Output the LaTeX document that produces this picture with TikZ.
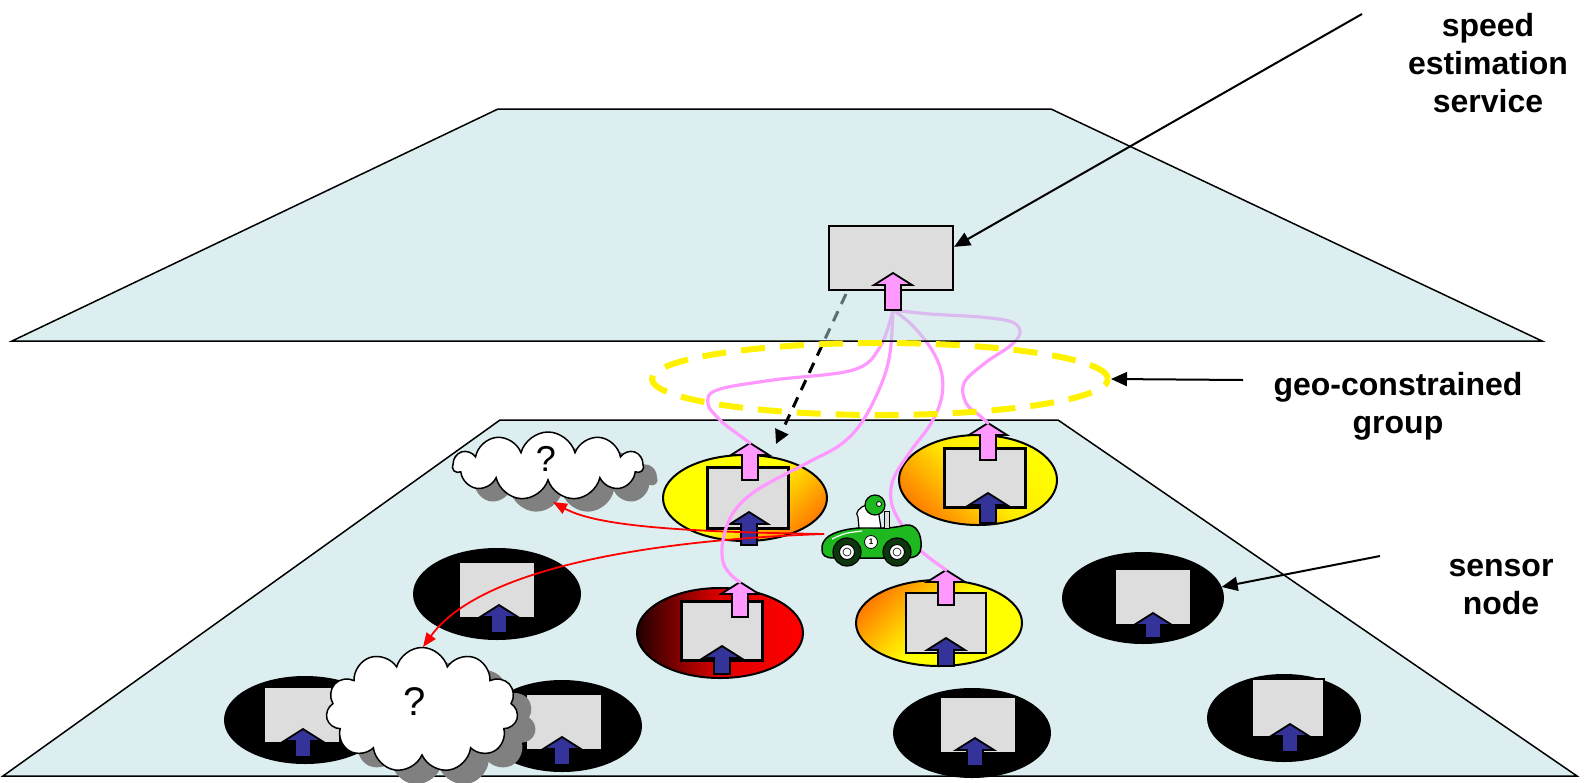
\documentclass[tikz,border=0pt]{standalone}
\usepackage{fontspec}
\setmainfont{Liberation Sans}
\usetikzlibrary{shapes.geometric,shapes.symbols,arrows.meta}

\definecolor{plane}{RGB}{220,238,240}
\definecolor{planeglass}{RGB}{185,221,225}
\definecolor{boxgrey}{RGB}{221,221,221}
\definecolor{linkpink}{RGB}{255,153,255}
\definecolor{upblue}{RGB}{51,51,153}
\definecolor{shadowgrey}{RGB}{128,128,128}
\definecolor{cargreen}{RGB}{30,185,30}
\definecolor{wheelgreen}{RGB}{12,55,12}
\definecolor{darkred}{RGB}{35,0,0}
\definecolor{hotorange}{RGB}{255,128,0}

\tikzset{
  planeedge/.style={draw=black, line width=1.5pt},
  sensorbody/.style={ellipse, draw=black, line width=2pt, inner sep=0pt},
  databox/.style={rectangle, draw=black, fill=boxgrey, line width=2.2pt, inner sep=0pt},
  arrowline/.style={draw=black, line width=1.8pt, line join=miter},
  link/.style={draw=linkpink, line width=3.2pt, line cap=round},
  pointer/.style={draw=black, line width=2pt, -{Triangle[length=16pt,width=14pt]}},
  redlink/.style={draw=red, line width=1.8pt, -{Triangle[length=14pt,width=11pt]}},
  label/.style={font=\bfseries\fontsize{32}{38}\selectfont, align=center},
  puff/.style={cloud, cloud puffs=11, cloud ignores aspect, inner sep=0pt},
  qmark/.style={font=\fontsize{40}{40}\selectfont}
}

% block arrow: name, x, y of tip, length, fill colour
\newcommand\blockarrow[5]{%
  \coordinate (#1) at (#2,#3);
  \filldraw[arrowline, fill=#5] (#1) -- ++(19,12) -- ++(-11,0) -- ++(0,#4-12)
    -- ++(-16,0) -- ++(0,12-#4) -- ++(-11,0) -- cycle;}

\begin{document}
\begin{tikzpicture}[x=1pt,y=-1pt]
\useasboundingbox (0,0) rectangle (1585,782);

\coordinate (svcout) at (893,310);

% lower plane
\filldraw[fill=plane, planeedge] (500,420) -- (1058,420) -- (1577,776) -- (3,776) -- cycle;

% sensor nodes
\node[sensorbody, top color=yellow, bottom color=hotorange, middle color=yellow, shading angle=45,
      minimum width=164pt, minimum height=86pt] (n1) at (745,498) {};
\node[databox, minimum width=81pt, minimum height=61pt] (b1) at (748,498) {};
\blockarrow{n1out}{750}{443}{37}{linkpink}
\blockarrow{n1in}{749}{512}{33}{upblue}

\node[sensorbody, top color=yellow, bottom color=hotorange, middle color={yellow!85!hotorange}, shading angle=-45,
      minimum width=158pt, minimum height=90pt] (n2) at (978,480) {};
\node[databox, minimum width=81pt, minimum height=59pt] (b2) at (985,478) {};
\blockarrow{n2out}{988}{423}{37}{linkpink}
\blockarrow{n2in}{988}{493}{30}{upblue}

\node[sensorbody, fill=black, minimum width=166pt, minimum height=90pt] (n3) at (497,594) {};
\node[databox, minimum width=77pt, minimum height=56pt] (b3) at (497,590) {};
\blockarrow{n3in}{499}{605}{28}{upblue}

\node[sensorbody, left color=darkred, right color=red, middle color=red!88!black,
      minimum width=166pt, minimum height=90pt] (n4) at (720,633) {};
\node[databox, minimum width=81pt, minimum height=59pt] (b4) at (722,631) {};
\blockarrow{n4out}{740}{582}{35}{linkpink}
\blockarrow{n4in}{722}{646}{28}{upblue}

\node[sensorbody, top color=hotorange, bottom color=yellow, middle color=yellow, shading angle=45,
      minimum width=166pt, minimum height=86pt] (n5) at (939,623) {};
\node[databox, minimum width=80pt, minimum height=60pt] (b5) at (946,623) {};
\blockarrow{n5out}{946}{570}{35}{linkpink}
\blockarrow{n5in}{946}{638}{28}{upblue}

\node[sensorbody, fill=black, minimum width=160pt, minimum height=90pt] (n6) at (1143,598) {};
\node[databox, minimum width=77pt, minimum height=56pt] (b6) at (1153,597) {};
\blockarrow{n6in}{1153}{613}{25}{upblue}

\node[sensorbody, fill=black, minimum width=160pt, minimum height=86pt] (n7) at (305,720) {};
\node[databox, minimum width=77pt, minimum height=56pt] (b7) at (302,715) {};
\blockarrow{n7in}{303}{729}{28}{upblue}

\node[sensorbody, fill=black, minimum width=158pt, minimum height=90pt] (n8) at (562,726) {};
\node[databox, minimum width=77pt, minimum height=56pt] (b8) at (564,722) {};
\blockarrow{n8in}{562}{737}{28}{upblue}

\node[sensorbody, fill=black, minimum width=156pt, minimum height=88pt] (n9) at (972,733) {};
\node[databox, minimum width=77pt, minimum height=56pt] (b9) at (978,725) {};
\blockarrow{n9in}{975}{738}{28}{upblue}

\node[sensorbody, fill=black, minimum width=152pt, minimum height=86pt] (n10) at (1284,718) {};
\node[databox, minimum width=72pt, minimum height=58pt] (b10) at (1288,708) {};
\blockarrow{n10in}{1290}{724}{28}{upblue}

% unknown positions
\node[puff, fill=shadowgrey, minimum width=190pt, minimum height=68pt] (cloudAsh) at (562,479) {};
\node[puff, draw=black, fill=white, line width=1.5pt, minimum width=190pt, minimum height=68pt] (cloudA) at (548,466) {};
\node[font=\fontsize{36}{36}\selectfont] (qA) at (546,459) {?};

\node[puff, fill=shadowgrey, minimum width=192pt, minimum height=125pt] (cloudBsh) at (440,724) {};
\node[puff, draw=black, fill=white, line width=1.5pt, minimum width=192pt, minimum height=125pt] (cloudB) at (422,710) {};
\node[qmark] (qB) at (415,702) {?};

% car position reports
\coordinate (carnose) at (824,534);
\coordinate (cloudAin) at (553,502);
\coordinate (cloudBin) at (423,647);
\draw[redlink] (carnose) .. controls (700,532) and (600,528) .. (cloudAin);
\draw[redlink] (carnose) .. controls (650,540) and (480,568) .. (cloudBin);

% group links
\draw[link] plot[smooth, tension=0.6] coordinates {(svcout) (880,347) (853,370) (773,380) (717,390) (708,404) (720,420) (735,432) (n1out)};
\draw[link] plot[smooth, tension=0.6] coordinates {(svcout) (890,353) (881,385) (862,422) (840,445) (807,463) (757,490) (733,513) (723,540) (723,562) (731,575) (n4out)};
\draw[link] plot[smooth, tension=0.6] coordinates {(svcout) (912,325) (932,350) (942,375) (941,400) (930,425) (910,452) (893,480) (892,505) (905,530) (920,550) (n5out)};
\draw[link] plot[smooth, tension=0.6] coordinates {(svcout) (930,314) (980,317) (1012,322) (1020,333) (1010,346) (985,363) (964,383) (966,403) (979,415) (n2out)};

% query from the service
\coordinate (qstart) at (846,294);
\coordinate (qend) at (776,444);
\draw[draw=black, line width=3pt, dash pattern=on 11pt off 8pt, -{Triangle[length=14pt,width=14pt]}] (qstart) -- (qend);

% car
\filldraw[draw=black, fill=cargreen, line width=1.5pt] (822,550) .. controls (821,538) and (832,532) .. (850,529) -- (866,527) .. controls (880,529) and (895,528) .. (906,525) .. controls (916,524) and (922,534) .. (921,547) .. controls (921,554) and (916,558) .. (906,558) -- (834,558) .. controls (825,558) and (822,555) .. (822,550) -- cycle;
\draw[white, line width=1.2pt] (832,539) .. controls (845,533) .. (862,531);
\filldraw[fill=white, draw=black, line width=1.2pt] (859,528) -- (858,517) .. controls (854,513) and (860,507) .. (866,505) -- (878,509) -- (881,528) -- cycle;
\filldraw[fill=cargreen, draw=black, line width=1.2pt] (875,505) circle[radius=10pt];
\filldraw[fill=white, draw=black, line width=0.8pt] (879,504) circle[radius=2.5pt];
\filldraw[fill=boxgrey, draw=black, line width=1pt] (884,511) rectangle (889,528);
\foreach \wx in {847,897} {
  \filldraw[fill=wheelgreen, draw=black, line width=1.2pt] (\wx,552) circle[radius=14pt];
  \filldraw[fill=white, draw=black, line width=1pt] (\wx,552) circle[radius=7.5pt];
  \draw[black, line width=0.6pt] (\wx,552) circle[radius=4pt];
}
\filldraw[fill=white, draw=black, line width=0.8pt] (871,542) circle[radius=6.5pt];
\node[font=\bfseries\fontsize{8}{8}\selectfont, inner sep=0pt] (badge) at (871,542) {1};

% upper plane, translucent over the links
\fill[planeglass, fill opacity=0.5] (498,109) -- (1051,109) -- (1542,341) -- (12,341) -- cycle;
\draw[planeedge] (498,109) -- (1051,109) -- (1542,341) -- (12,341) -- cycle;

% speed estimation service
\node[databox, minimum width=124pt, minimum height=64pt] (svc) at (891,258) {};
\blockarrow{svcup}{893}{273}{37}{linkpink}

% geo-constrained group
\node[ellipse, draw=yellow, line width=6pt, dash pattern=on 24pt off 15pt,
      minimum width=456pt, minimum height=72pt, inner sep=0pt] (geo) at (880,379) {};

% labels and pointers
\node[label] (lblsvc) at (1488,63) {speed\\estimation\\service};
\node[label] (lblgeo) at (1398,406) {geo-constrained\\group};
\node[label] (lblsensor) at (1501,587) {sensor\\node};

\coordinate (svctail) at (1362,14);
\coordinate (geotail) at (1243,380);
\coordinate (sensortail) at (1380,556);
\draw[pointer] (svctail) -- (svc.10);
\draw[pointer] (geotail) -- (geo.east);
\draw[pointer] (sensortail) -- (n6.8);
\end{tikzpicture}
\end{document}
